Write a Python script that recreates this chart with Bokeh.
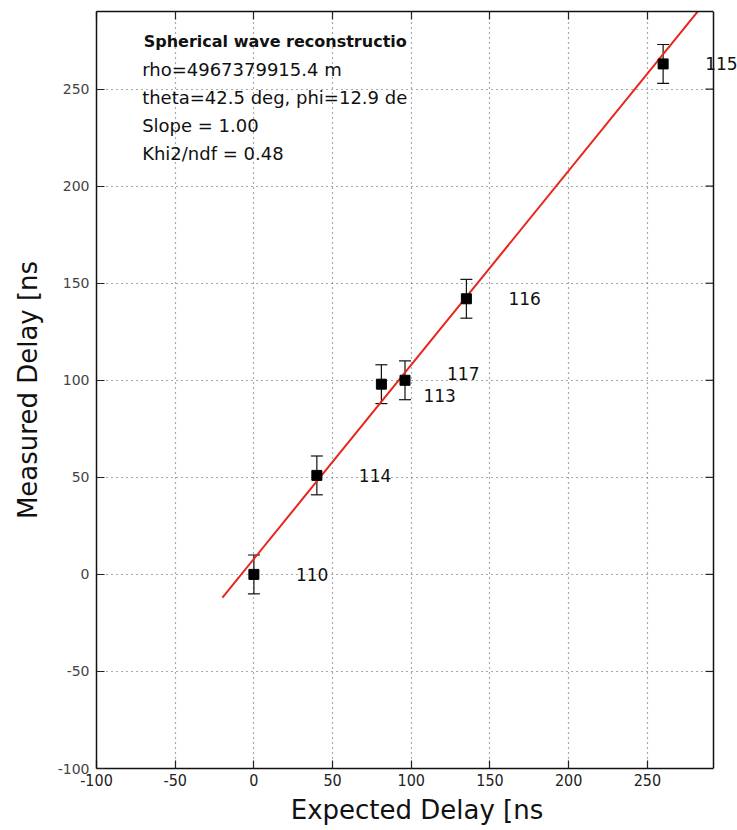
from bokeh.plotting import figure
from bokeh.models import (Range1d, FixedTicker, LinearAxis, Whisker, ColumnDataSource,
                          Label, TeeHead, Span, BoxAnnotation)
from bokeh.embed import file_html
from bokeh.resources import INLINE

# Antenna delays: expected vs measured (ns)
antenna_ids = ["110", "114", "113", "117", "116", "115"]
expected_ns = [0, 40, 81, 96, 135, 260]
measured_ns = [0, 51, 98, 100, 142, 263]
measured_err = [10, 10, 10, 10, 10, 10]
# small vertical nudges (screen px, up positive) to keep neighbouring labels apart
label_nudge_px = [0, 0, -11, 7, 0, 0]

# fitted straight line (slope 1.00, intercept ~8 ns)
fit_x = [-20, 292]
fit_y = [-12, 300]

tick_values = [-100, -50, 0, 50, 100, 150, 200, 250]

info_lines = [
    "Spherical wave reconstructio",
    "rho=4967379915.4 m",
    "theta=42.5 deg, phi=12.9 de",
    "Slope = 1.00",
    "Khi2/ndf = 0.48",
]

FONT = "DejaVu Sans"
NARROW = "DejaVu Sans Condensed"

# axes box: x from -100 to 292 ns, y from -100 to 290 ns.  The canvas keeps a
# strip on the right of the box so that labels near the edge are not cut.
X_MIN, X_MAX = -100, 292
Y_MIN, Y_MAX = -100, 290
BOX_LEFT_PX, BOX_RIGHT_PX, W = 96, 713, 737
px_per_ns = (BOX_RIGHT_PX - BOX_LEFT_PX) / (X_MAX - X_MIN)
x_end = X_MIN + (W - BOX_LEFT_PX) / px_per_ns
TICK_PX = 8

p = figure(width=W, height=830,
           x_range=Range1d(X_MIN, x_end), y_range=Range1d(Y_MIN, Y_MAX),
           output_backend="svg", toolbar_location=None,
           min_border_left=BOX_LEFT_PX, min_border_right=0,
           min_border_top=11, min_border_bottom=62,
           background_fill_color="white", border_fill_color="white")

p.outline_line_color = None

ticker = FixedTicker(ticks=tick_values)
hyphen_labels = {v: str(v) for v in tick_values}
blank_labels = {v: "" for v in tick_values}

def style_axis(ax, show_labels):
    ax.ticker = ticker
    ax.major_tick_in = TICK_PX
    ax.major_tick_out = 0
    ax.minor_tick_line_color = None
    ax.major_tick_line_color = "#222222"
    ax.major_tick_line_width = 1.2
    ax.axis_line_color = "#111111"
    ax.axis_line_width = 1.5
    ax.major_label_overrides = hyphen_labels if show_labels else blank_labels
    if not show_labels:
        ax.major_label_standoff = 0

xa = p.xaxis[0]
ya = p.yaxis[0]
style_axis(xa, True)
style_axis(ya, True)
xa.bounds = (X_MIN, X_MAX)

xa.major_label_text_font = NARROW
xa.major_label_text_font_size = "16px"
xa.major_label_text_color = "#222222"
xa.major_label_standoff = 5
xa.axis_label = "Expected Delay [ns"
xa.axis_label_text_font = FONT
xa.axis_label_text_font_size = "26px"
xa.axis_label_text_font_style = "normal"
xa.axis_label_text_color = "#111111"
xa.axis_label_standoff = 6

ya.major_label_text_font = FONT
ya.major_label_text_font_size = "14px"
ya.major_label_text_color = "#444444"
ya.major_label_standoff = 7
ya.axis_label = "Measured Delay [ns"
ya.axis_label_text_font = FONT
ya.axis_label_text_font_size = "26px"
ya.axis_label_text_font_style = "normal"
ya.axis_label_text_color = "#111111"
ya.axis_label_standoff = 12

top_ax = LinearAxis(bounds=(X_MIN, X_MAX))
style_axis(top_ax, False)
p.add_layout(top_ax, "above")

for g in (p.xgrid[0], p.ygrid[0]):
    g.ticker = ticker
    g.grid_line_color = "#555555"
    g.grid_line_dash = "1 4"
    g.grid_line_width = 1.2

src = ColumnDataSource(dict(
    x=expected_ns, y=measured_ns,
    lo=[m - e for m, e in zip(measured_ns, measured_err)],
    hi=[m + e for m, e in zip(measured_ns, measured_err)],
))

# fit line
p.line(fit_x, fit_y, line_color="#e8241c", line_width=2)

# blank strip right of the axes box
p.add_layout(BoxAnnotation(left=X_MAX, fill_color="white", fill_alpha=1.0,
                           line_color=None))

# right edge of the axes box with inward ticks
p.add_layout(Span(location=X_MAX, dimension="height", line_color="#111111",
                  line_width=1.5))
tick_len = TICK_PX / px_per_ns
p.segment(x0=[X_MAX] * len(tick_values), x1=[X_MAX - tick_len] * len(tick_values),
          y0=tick_values, y1=tick_values, line_color="#222222", line_width=1.2)

# error bars
p.add_layout(Whisker(source=src, base="x", lower="lo", upper="hi", dimension="height",
                     line_color="#111111", line_width=1.2,
                     upper_head=TeeHead(size=12, line_color="#111111", line_width=1.2),
                     lower_head=TeeHead(size=12, line_color="#111111", line_width=1.2)))

# measured points
p.scatter("x", "y", source=src, marker="square", size=10,
          fill_color="black", line_color="black")

# antenna labels
for name, x, y, dy in zip(antenna_ids, expected_ns, measured_ns, label_nudge_px):
    p.add_layout(Label(x=x, y=y, text=name, x_offset=42, y_offset=dy,
                       text_font=FONT, text_font_size="17px", text_color="#111111",
                       text_align="left", text_baseline="middle"))

# fit summary block
top_y = 274.6
step = 14.4
for i, line in enumerate(info_lines):
    lab = Label(x=-70 if i == 0 else -71, y=top_y - i * step, text=line,
                text_font=FONT, text_font_size="16px" if i == 0 else "18px",
                text_font_style="bold" if i == 0 else "normal",
                text_color="#111111", text_baseline="middle", text_align="left")
    p.add_layout(lab)

open("out.html", "w").write(file_html(p, INLINE))
